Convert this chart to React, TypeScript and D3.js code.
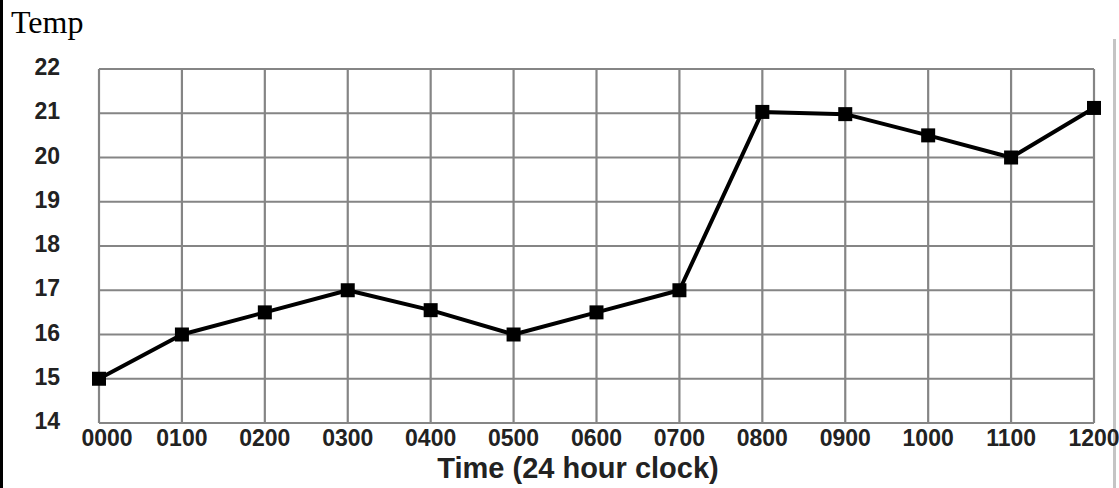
import React, { useEffect, useRef } from "react";
import * as d3 from "d3";

// Data
const times = ["0000", "0100", "0200", "0300", "0400", "0500", "0600", "0700", "0800", "0900", "1000", "1100", "1200"];
const temps = [15, 16, 16.5, 17, 16.55, 16, 16.5, 17, 21.03, 20.98, 20.5, 20, 21.12];
const yTicks = [14, 15, 16, 17, 18, 19, 20, 21, 22];

const TempChart: React.FC = () => {
  const chartRef = useRef<SVGSVGElement>(null);

  useEffect(() => {
    if (!chartRef.current) return;

    const svg = d3.select(chartRef.current);
    svg.selectAll("*").remove(); // Clear any previous content

    const width = 1119;
    const height = 488;
    const plot = { left: 99, right: 1094, top: 69, bottom: 423 };

    svg.append("rect").attr("width", width).attr("height", height).attr("fill", "#fff");

    // Frame pieces from the original crop
    svg.append("rect").attr("x", 0).attr("y", 0).attr("width", 3).attr("height", height).attr("fill", "#000");
    svg.append("rect").attr("x", 1113).attr("y", 39).attr("width", 3).attr("height", height - 39).attr("fill", "#c4c4c4");

    // "Temp" heading
    svg.append("text")
      .attr("x", 11)
      .attr("y", 33)
      .style("font-family", "'Liberation Serif', 'Times New Roman', serif")
      .style("font-size", "32px")
      .style("fill", "#000")
      .text("Temp");

    const x = d3.scalePoint<string>().domain(times).range([plot.left, plot.right]);
    const y = d3.scaleLinear().domain([14, 22]).range([plot.bottom, plot.top]);

    const grid = svg.append("g").attr("stroke", "#858585").attr("stroke-width", 2.2);

    // Vertical gridlines
    grid.selectAll(".vline")
      .data(times)
      .enter()
      .append("line")
      .attr("x1", (d) => x(d) || 0)
      .attr("x2", (d) => x(d) || 0)
      .attr("y1", plot.top)
      .attr("y2", plot.bottom);

    // Horizontal gridlines
    grid.selectAll(".hline")
      .data(yTicks)
      .enter()
      .append("line")
      .attr("x1", plot.left)
      .attr("x2", plot.right)
      .attr("y1", (d) => y(d))
      .attr("y2", (d) => y(d));

    const font = "'Liberation Sans', Arial, sans-serif";

    // Y tick labels
    svg.selectAll(".ylabel")
      .data(yTicks)
      .enter()
      .append("text")
      .attr("x", 60)
      .attr("y", (d) => y(d) - 2)
      .attr("text-anchor", "end")
      .attr("dominant-baseline", "central")
      .style("font-family", font)
      .style("font-weight", "bold")
      .style("font-size", "23px")
      .style("fill", "#222")
      .text((d) => d);

    // X tick labels
    svg.selectAll(".xlabel")
      .data(times)
      .enter()
      .append("text")
      .attr("x", (d, i) => (x(d) || 0) + (i === 0 ? 8 : 0))
      .attr("y", 446)
      .attr("text-anchor", "middle")
      .style("font-family", font)
      .style("font-weight", "bold")
      .style("font-size", "23px")
      .style("fill", "#222")
      .text((d) => d);

    // Axis title
    svg.append("text")
      .attr("x", 578)
      .attr("y", 478)
      .attr("text-anchor", "middle")
      .style("font-family", font)
      .style("font-weight", "bold")
      .style("font-size", "29px")
      .style("fill", "#222")
      .text("Time (24 hour clock)");

    // Line
    const points = times.map((t, i) => ({ t, v: temps[i] }));
    const line = d3.line<{ t: string; v: number }>()
      .x((d) => x(d.t) || 0)
      .y((d) => y(d.v));

    svg.append("path")
      .datum(points)
      .attr("d", line)
      .attr("fill", "none")
      .attr("stroke", "#000")
      .attr("stroke-width", 4)
      .attr("stroke-linejoin", "round");

    // Square markers
    const size = 14;
    svg.selectAll(".marker")
      .data(points)
      .enter()
      .append("rect")
      .attr("x", (d) => (x(d.t) || 0) - size / 2)
      .attr("y", (d) => y(d.v) - size / 2)
      .attr("width", size)
      .attr("height", size)
      .attr("fill", "#000");
  }, []);

  return (
    <svg
      ref={chartRef}
      width={1119}
      height={488}
      style={{ position: "fixed", top: 0, left: 0, display: "block" }}
    />
  );
};

export default function App() {
  return <TempChart />;
}
